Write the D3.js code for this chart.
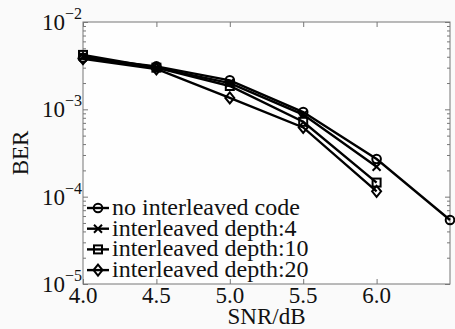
<!DOCTYPE html>
<html>
<head>
<meta charset="utf-8">
<script src="https://cdn.jsdelivr.net/npm/d3@7"></script>
<style>
  body { margin: 0; background: #fafafa; }
  svg text { font-family: "Liberation Serif", "Times New Roman", "DejaVu Serif", serif; fill: #111; }
</style>
</head>
<body>
<div id="chart"></div>
<script>
// data
let snr = [4.0, 4.5, 5.0, 5.5, 6.0];
let noInterleave = [3.9e-3, 3.1e-3, 2.15e-3, 9.3e-4, 2.7e-4, 5.4e-5];
let depth4 = [4.0e-3, 3.0e-3, 2.0e-3, 8.7e-4, 2.2e-4];
let depth10 = [4.2e-3, 3.0e-3, 1.85e-3, 7.2e-4, 1.45e-4];
let depth20 = [3.8e-3, 2.9e-3, 1.35e-3, 6.2e-4, 1.15e-4];
let snrNo = [4.0, 4.5, 5.0, 5.5, 6.0, 6.5];
let xTicks = [4.0, 4.5, 5.0, 5.5, 6.0];
let yTicks = [1e-5, 1e-4, 1e-3, 1e-2];
let names = ["no interleaved code", "interleaved depth:4", "interleaved depth:10", "interleaved depth:20"];

let serif = "'Liberation Serif', 'Times New Roman', 'DejaVu Serif', serif";

let svgWidth = 455;
let svgHeight = 329;
let margin = { top: 22, right: 5, bottom: 45, left: 83 };
let width = svgWidth - margin.left - margin.right;
let height = svgHeight - margin.top - margin.bottom;

let svg = d3.select("#chart").append("svg")
  .attr("width", svgWidth)
  .attr("height", svgHeight)
  .style("font-family", serif);

let g = svg.append("g")
  .attr("transform", `translate(${margin.left}, ${margin.top})`);

let x = d3.scaleLinear().domain([4.0, 6.5]).range([0, width]);
let y = d3.scaleLog().domain([1e-5, 1e-2]).range([height, 0]);

// frame
g.append("rect")
  .attr("width", width).attr("height", height)
  .attr("fill", "#fefefe").attr("stroke", "#777").attr("stroke-width", 1);

// minor log ticks
let minor = [];
[1e-5, 1e-4, 1e-3].forEach(d => { for (let k = 2; k <= 9; k++) minor.push(d * k); });

let tickColor = "#777";
g.append("g").call(d3.axisRight(y).tickValues(minor).tickSize(3).tickFormat(""));
g.append("g").attr("transform", `translate(${width},0)`).call(d3.axisLeft(y).tickValues(minor).tickSize(3).tickFormat(""));
g.append("g").call(d3.axisRight(y).tickValues(yTicks).tickSize(5).tickFormat(""));
g.append("g").attr("transform", `translate(${width},0)`).call(d3.axisLeft(y).tickValues(yTicks).tickSize(5).tickFormat(""));
g.append("g").call(d3.axisBottom(x).tickValues(xTicks).tickSize(5).tickFormat(""));
g.append("g").attr("transform", `translate(0,${height})`).call(d3.axisTop(x).tickValues(xTicks).tickSize(5).tickFormat(""));
g.selectAll(".domain").remove();
g.selectAll(".tick line").attr("stroke", tickColor);

// y tick labels 10^n
yTicks.forEach(v => {
  let t = g.append("text")
    .attr("x", -1)
    .attr("y", y(v) + 8)
    .attr("text-anchor", "end")
    .style("font-family", serif)
    .style("font-size", "23px");
  t.append("tspan").text("10");
  t.append("tspan").attr("dy", -11).style("font-size", "16px").text("\u2212" + Math.round(-Math.log10(v)));
});

// x tick labels
g.selectAll(".xlab").data(xTicks).enter().append("text")
  .attr("x", d => x(d))
  .attr("y", height + 19)
  .attr("text-anchor", "middle")
  .style("font-family", serif)
  .style("font-size", "23px")
  .text(d => d.toFixed(1));

// axis titles
svg.append("text")
  .attr("x", margin.left + width / 2)
  .attr("y", 324)
  .attr("text-anchor", "middle")
  .style("font-family", serif)
  .style("font-size", "23px")
  .text("SNR/dB");

svg.append("text")
  .attr("transform", `translate(28, ${margin.top + height / 2}) rotate(-90)`)
  .attr("text-anchor", "middle")
  .style("font-family", serif)
  .style("font-size", "23px")
  .text("BER");

// markers (unfilled, like the original)
function marker(sel, kind) {
  if (kind === 0) {
    sel.append("circle").attr("r", 4.3).attr("fill", "none").attr("stroke", "#000").attr("stroke-width", 2);
  } else if (kind === 1) {
    sel.append("path").attr("d", "M-4,-4L4,4M-4,4L4,-4").attr("stroke", "#000").attr("stroke-width", 2);
  } else if (kind === 2) {
    sel.append("rect").attr("x", -4).attr("y", -4).attr("width", 8).attr("height", 8)
      .attr("fill", "none").attr("stroke", "#000").attr("stroke-width", 2);
  } else {
    sel.append("path").attr("d", "M0,-5.5L4.5,0L0,5.5L-4.5,0Z")
      .attr("fill", "none").attr("stroke", "#000").attr("stroke-width", 2);
  }
}

let series = [
  { xs: snrNo, ys: noInterleave },
  { xs: snr, ys: depth4 },
  { xs: snr, ys: depth10 },
  { xs: snr, ys: depth20 }
];

let line = d3.line().x(d => x(d[0])).y(d => y(d[1]));

series.forEach((s, i) => {
  let pts = s.xs.map((v, j) => [v, s.ys[j]]);
  g.append("path")
    .datum(pts)
    .attr("d", line)
    .attr("fill", "none")
    .attr("stroke", "#000")
    .attr("stroke-width", 2.4);
  g.selectAll(".m" + i).data(pts).enter().append("g")
    .attr("transform", d => `translate(${x(d[0])},${y(d[1])})`)
    .each(function() { marker(d3.select(this), i); });
});

// legend
let legend = g.append("g").attr("transform", "translate(4, 186)");
names.forEach((n, i) => {
  let row = legend.append("g").attr("transform", `translate(0, ${i * 20.7})`);
  row.append("line").attr("x1", 0).attr("x2", 22).attr("stroke", "#000").attr("stroke-width", 2.4);
  marker(row.append("g").attr("transform", "translate(11,0)"), i);
  row.append("text")
    .attr("x", 25)
    .attr("y", 7)
    .style("font-family", serif)
    .style("font-size", "24px")
    .text(n);
});
</script>
</body>
</html>
